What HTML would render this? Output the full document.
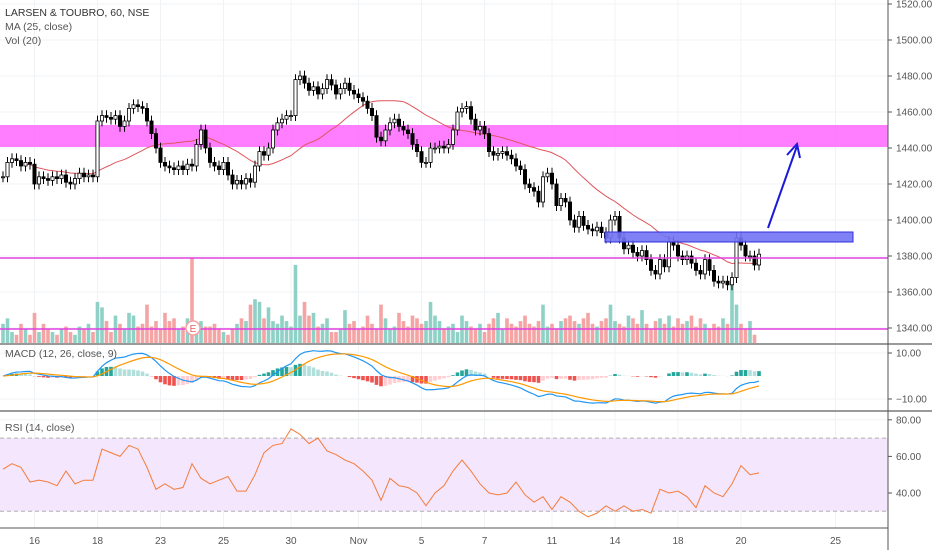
<!DOCTYPE html>
<html><head><meta charset="utf-8"><style>
html,body{margin:0;padding:0;background:#fff;}
svg{display:block;font-family:"Liberation Sans",sans-serif;}
</style></head><body>
<svg id="c" width="932" height="550" xmlns="http://www.w3.org/2000/svg"></svg>
<script>
const closes=[1424,1432,1434,1433,1430,1432,1431,
1420,
1424,1423,1422,1424,1423,1425,1421,1420,1423,1426,1424,1425,1424,
1455,
1458,1457,1456,1458,1452,1455,1462,1464,1463,1462,
1455,1448,1440,1432,
1430,1429,1428,1430,1428,1431,1430,
1442,1450,1440,
1432,1430,1428,1432,1425,1420,1422,1420,1423,1421,
1430,1438,1436,1440,1450,
1454,1456,1458,1458,
1478,
1480,1476,1472,1474,1470,1473,1478,1475,1470,1473,1476,1472,1470,
1468,1466,1462,1458,1446,
1444,1450,1454,1456,1452,1450,1448,1442,
1438,1432,1432,1440,1440,
1441,1440,1442,
1450,1460,1462,1463,1456,
1450,1452,1448,
1438,1436,1437,1438,1436,1434,1430,
1428,1420,1418,1416,
1410,1424,1426,1420,
1408,1412,1410,1400,
1396,1402,1397,1395,
1394,1396,1393,1390,
1400,1402,1390,1384,
1386,1382,1380,1383,1378,
1372,1370,1378,1374,
1388,1386,1380,
1378,1380,1376,1372,
1370,1378,1372,1366,
1365,1366,1364,1368,
1390,
1386,1380,1380,1375,1381];
const volumes=[14,18,8,6,14,10,6,
22,
8,14,10,8,6,10,12,8,6,12,10,14,8,
30,
26,16,8,20,14,10,22,20,12,14,
28,12,16,10,
22,16,18,10,12,18,62,
10,16,12,
12,14,10,8,6,10,14,18,16,28,
32,30,18,26,16,
14,20,16,12,
57,
20,30,20,22,12,14,18,8,8,10,24,14,
16,10,12,20,14,
10,28,18,10,12,22,16,12,
20,18,14,16,30,
20,16,10,
12,14,8,20,16,
12,10,14,
8,14,18,22,10,18,14,
12,16,20,14,
12,16,28,12,
14,10,16,18,
20,16,14,18,
22,14,12,16,
18,28,16,14,
12,20,18,14,24,
14,10,16,18,
14,20,12,
18,14,16,20,
12,18,14,10,
14,12,18,14,
48,
28,14,10,16,6];
const rsiValues=[53,56,54,46,47,46,44,52,45,47,47,64,62,60,66,64,54,42,45,42,43,56,48,45,47,49,41,41,50,62,66,67,75,72,67,70,63,61,58,56,52,47,36,48,44,43,40,33,40,44,52,58,52,45,40,39,40,46,39,35,38,31,38,35,30,27,29,33,30,33,30,31,29,42,40,41,38,32,44,40,38,45,55,50,51];
const priceTicks=[1520,1500,1480,1460,1440,1420,1400,1380,1360,1340];
const macdTicks=[10,-10];
const rsiTicks=[80,60,40];
const dateLabels=["16","18","23","25","30","Nov","5","7","11","14","18","20","25"];
const dateIdx=[7,21,35,49,64,79,93,107,122,136,150,164,185];

const S=document.getElementById('c');
const NS='http://www.w3.org/2000/svg';
function mk(tag,attrs,parent){const e=document.createElementNS(NS,tag);for(const k in attrs)e.setAttribute(k,attrs[k]);(parent||S).appendChild(e);return e;}
const xOf=i=>3+i*4.5;
const yP=p=>256-(p-1380)*1.8;
const yM=v=>376-v*2.3;
const yR=v=>493-(v-40)*1.83;
const yV=v=>343-v*1.37;
const W=888;

const grid=mk('g',{});


dateIdx.forEach(i=>{mk('line',{x1:xOf(i),x2:xOf(i),y1:0,y2:528,stroke:'#f0f3f6','stroke-width':1},grid);});
priceTicks.forEach(p=>mk('line',{x1:0,x2:W,y1:yP(p),y2:yP(p),stroke:'#f0f3f6'},grid));
macdTicks.forEach(v=>mk('line',{x1:0,x2:W,y1:yM(v),y2:yM(v),stroke:'#f0f3f6'},grid));
rsiTicks.forEach(v=>mk('line',{x1:0,x2:W,y1:yR(v),y2:yR(v),stroke:'#f0f3f6'},grid));

const z=mk('rect',{x:0,y:125,width:W,height:22,fill:'#ff66ff','fill-opacity':0.85});



const vg=mk('g',{});


closes.forEach((c,i)=>{const o=i?closes[i-1]:c;const up=c>=o;
 const r=mk('rect',{x:xOf(i)-1.8,y:yV(volumes[i]),width:3.6,height:343-yV(volumes[i]),fill:up?'#8fd1c6':'#f5a3a3'},vg);
 
 });

let ma=[];closes.forEach((c,i)=>{if(i>=5){const s=closes.slice(Math.max(0,i-24),i+1);ma.push([xOf(i),yP(s.reduce((a,b)=>a+b,0)/s.length)]);}});
const mal=mk('polyline',{points:ma.map(p=>p.join(',')).join(' '),fill:'none',stroke:'#e0555b','stroke-width':1});



const cg=mk('g',{});


closes.forEach((c,i)=>{const o=i?closes[i-1]:c;const x=xOf(i);const up=c>=o;
 const hi=Math.max(o,c)+3,lo=Math.min(o,c)-3;
 mk('line',{x1:x,x2:x,y1:yP(hi),y2:yP(lo),stroke:'#000','stroke-width':1},cg);
 const t=yP(Math.max(o,c)),b=yP(Math.min(o,c));
 const r=mk('rect',{x:x-1.6,y:t,width:3.2,height:Math.max(1,b-t),fill:up?'#fff':'#000',stroke:'#000','stroke-width':0.8},cg);
 
 });

[[258,'support-line'],[329,'volume-level-line']].forEach(([y,n])=>{const l=mk('line',{x1:0,x2:W,y1:y,y2:y,stroke:'#e040e0','stroke-width':1.5});

});
const br=mk('rect',{x:605,y:232,width:248,height:10,fill:'#7373f5','fill-opacity':0.9,stroke:'#3030e0','stroke-width':1});


const ar=mk('g',{});


mk('line',{x1:768,y1:228,x2:797,y2:146,stroke:'#1a1ad8','stroke-width':2},ar);
mk('polyline',{points:'787,155 797,144 800,158',fill:'none',stroke:'#1a1ad8','stroke-width':2},ar);
const eg=mk('g',{});


mk('circle',{cx:193,cy:328,r:7,fill:'#fff',stroke:'#f5a3a3','stroke-width':1.5},eg);
mk('text',{x:193,y:332,'font-size':10,'text-anchor':'middle',fill:'#e06060'},eg).textContent='E';

[[344,'macd-separator'],[411,'rsi-separator']].forEach(([y,n])=>{const l=mk('line',{x1:0,x2:932,y1:y,y2:y,stroke:'#9a9a9a','stroke-width':2});

});

function ema(a,n){const k=2/(n+1);let r=[a[0]];for(let i=1;i<a.length;i++)r.push(a[i]*k+r[i-1]*(1-k));return r;}
const e12=ema(closes,12),e26=ema(closes,26);const macd=e12.map((v,i)=>v-e26[i]);const sig=ema(macd,9);
const hg=mk('g',{});


macd.forEach((m,i)=>{const h=m-sig[i];const ph=i?macd[i-1]-sig[i-1]:h;const col=h>=0?(h>=ph?'#26a69a':'#b2dfdb'):(h<=ph?'#ef5350':'#ffcdd2');
 const y0=yM(0),y1=yM(h);const r=mk('rect',{x:xOf(i)-1.8,y:Math.min(y0,y1),width:3.6,height:Math.abs(y1-y0),fill:col},hg);
 
 });
const ml=mk('polyline',{points:macd.map((v,i)=>xOf(i)+','+yM(v)).join(' '),fill:'none',stroke:'#2196f3','stroke-width':1.2});


const sl=mk('polyline',{points:sig.map((v,i)=>xOf(i)+','+yM(v)).join(' '),fill:'none',stroke:'#ff9800','stroke-width':1.2});



const band=mk('rect',{x:0,y:yR(70),width:W,height:yR(30)-yR(70),fill:'#f3e6fd'});


[70,30].forEach(v=>mk('line',{x1:0,x2:W,y1:yR(v),y2:yR(v),stroke:'#b0b0b0','stroke-dasharray':'4,3'}));
const rl=mk('polyline',{points:rsiValues.map((v,k)=>xOf(2*k)+','+yR(v)).join(' '),fill:'none',stroke:'#f57c3a','stroke-width':1});



mk('line',{x1:W,x2:W,y1:0,y2:550,stroke:'#555','stroke-width':1});
mk('line',{x1:0,x2:W,y1:528,y2:528,stroke:'#555','stroke-width':1});
const pa=mk('g',{'font-size':10,fill:'#555'});


priceTicks.forEach(p=>{mk('line',{x1:W,x2:W+4,y1:yP(p),y2:yP(p),stroke:'#555'},pa);const t=mk('text',{x:896,y:yP(p)+3.5},pa);t.textContent=p.toFixed(2);});
macdTicks.forEach(v=>{mk('line',{x1:W,x2:W+4,y1:yM(v),y2:yM(v),stroke:'#555'},pa);const t=mk('text',{x:896,y:yM(v)+3.5},pa);t.textContent=(v<0?'−':'')+Math.abs(v).toFixed(2);});
rsiTicks.forEach(v=>{mk('line',{x1:W,x2:W+4,y1:yR(v),y2:yR(v),stroke:'#555'},pa);const t=mk('text',{x:896,y:yR(v)+3.5},pa);t.textContent=v.toFixed(2);});
const ta=mk('g',{'font-size':10,fill:'#555','text-anchor':'middle'});


dateLabels.forEach((d,k)=>{const t=mk('text',{x:xOf(dateIdx[k]),y:544},ta);t.textContent=d;});

const lg=mk('g',{'font-size':10.5,fill:'#444'});


[['LARSEN & TOUBRO, 60, NSE',16,'#333'],['MA (25, close)',30,'#555'],['Vol (20)',44,'#555'],['MACD (12, 26, close, 9)',357,'#555'],['RSI (14, close)',431,'#555']].forEach(([s,y,c])=>{const t=mk('text',{x:5,y:y,fill:c},lg);t.textContent=s;});
</script>
</body></html>
